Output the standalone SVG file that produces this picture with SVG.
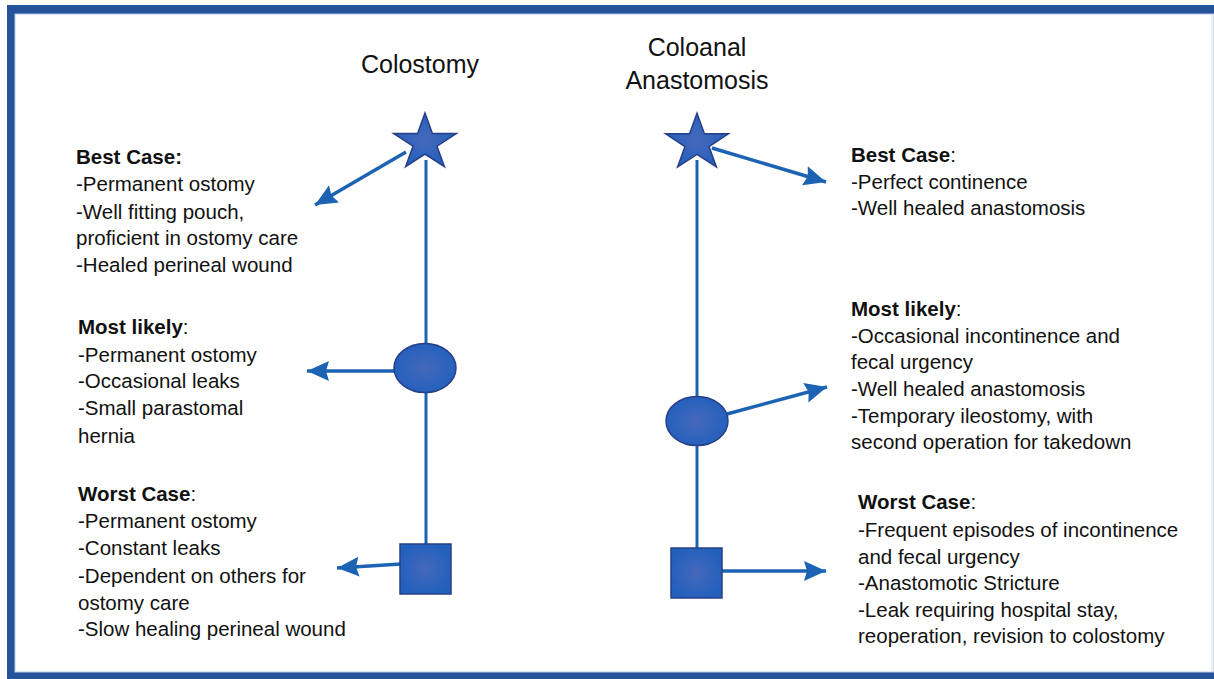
<svg xmlns="http://www.w3.org/2000/svg" width="1214" height="679" viewBox="0 0 1214 679">
<defs>
<radialGradient id="g" cx="50%" cy="50%" r="55%">
<stop offset="0" stop-color="#4668bb"/>
<stop offset="1" stop-color="#2160bd"/>
</radialGradient>
<marker id="ah" markerUnits="userSpaceOnUse" markerWidth="26" markerHeight="24" refX="22" refY="10" orient="auto">
<path d="M0,0 L22,10 L0,20 L3,10 Z" fill="#1d63b4"/>
</marker>
<polygon id="star" points="0,-29.7 7.4,-9.2 31.4,-9.2 12,3.5 19.4,24 0,11.3 -19.4,24 -12,3.5 -31.4,-9.2 -7.4,-9.2"/>
</defs>
<style>
.shape{fill:url(#g);stroke:#283f86;stroke-width:1.5}
.ln{stroke:#1d63b4;stroke-width:3;fill:none}
.ar{stroke:#1d63b4;stroke-width:3.5;fill:none;marker-end:url(#ah)}
.t{font-family:"Liberation Sans",Arial,sans-serif;font-size:20.5px;fill:#111}
.h{font-family:"Liberation Sans",Arial,sans-serif;font-size:25px;fill:#111;text-anchor:middle}
.b{font-weight:bold}
</style>
<rect x="0" y="0" width="1214" height="679" fill="#fff"/>
<rect x="7" y="5" width="1207" height="674" fill="#24539c"/>
<rect x="15" y="14" width="1199" height="658" fill="#fff" stroke="#b9c6e6" stroke-width="1"/>
<line x1="1212" y1="14" x2="1212" y2="672" stroke="#ddd" stroke-width="1"/>

<g id="connectors">
<line class="ln" x1="426" y1="160" x2="426" y2="345"/>
<line class="ln" x1="426" y1="392" x2="426" y2="545"/>
<line class="ln" x1="697" y1="160" x2="697" y2="397"/>
<line class="ln" x1="697" y1="444" x2="697" y2="549"/>
<line class="ar" x1="406" y1="152" x2="315" y2="205"/>
<line class="ar" x1="395" y1="371" x2="307" y2="371"/>
<line class="ar" x1="401" y1="564" x2="337" y2="568"/>
<line class="ar" x1="712" y1="148" x2="826" y2="182"/>
<line class="ar" x1="727" y1="414" x2="827" y2="387"/>
<line class="ar" x1="722" y1="571" x2="826" y2="571"/>
</g>

<g id="title-colostomy"><text class="h" x="420" y="73">Colostomy</text></g>
<g id="title-coloanal"><text class="h" x="697" y="56">Coloanal</text><text class="h" x="697" y="89">Anastomosis</text></g>

<g id="star-left"><use href="#star" class="shape" x="425" y="142.7"/></g>
<g id="ellipse-left"><ellipse class="shape" cx="425" cy="368" rx="31" ry="24.5"/></g>
<g id="square-left"><rect class="shape" x="400" y="544" width="51" height="50"/></g>
<g id="star-right"><use href="#star" class="shape" x="697" y="143"/></g>
<g id="ellipse-right"><ellipse class="shape" cx="697" cy="421" rx="31" ry="24.5"/></g>
<g id="square-right"><rect class="shape" x="671" y="548" width="51" height="50"/></g>

<g id="left-best">
<text class="t" x="76" y="164"><tspan class="b">Best Case:</tspan></text>
<text class="t" x="76" y="191">-Permanent ostomy</text>
<text class="t" x="76" y="219">-Well fitting pouch,</text>
<text class="t" x="76" y="245">proficient in ostomy care</text>
<text class="t" x="76" y="272">-Healed perineal wound</text>
</g>
<g id="left-most">
<text class="t" x="78" y="334"><tspan class="b">Most likely</tspan>:</text>
<text class="t" x="78" y="362">-Permanent ostomy</text>
<text class="t" x="78" y="388">-Occasional leaks</text>
<text class="t" x="78" y="415">-Small parastomal</text>
<text class="t" x="78" y="443">hernia</text>
</g>
<g id="left-worst">
<text class="t" x="78" y="501"><tspan class="b">Worst Case</tspan>:</text>
<text class="t" x="78" y="528">-Permanent ostomy</text>
<text class="t" x="78" y="555">-Constant leaks</text>
<text class="t" x="78" y="583">-Dependent on others for</text>
<text class="t" x="78" y="610">ostomy care</text>
<text class="t" x="78" y="636">-Slow healing perineal wound</text>
</g>
<g id="right-best">
<text class="t" x="851" y="162"><tspan class="b">Best Case</tspan>:</text>
<text class="t" x="851" y="189">-Perfect continence</text>
<text class="t" x="851" y="215">-Well healed anastomosis</text>
</g>
<g id="right-most">
<text class="t" x="851" y="316"><tspan class="b">Most likely</tspan>:</text>
<text class="t" x="851" y="343">-Occasional incontinence and</text>
<text class="t" x="851" y="369">fecal urgency</text>
<text class="t" x="851" y="396">-Well healed anastomosis</text>
<text class="t" x="851" y="423">-Temporary ileostomy, with</text>
<text class="t" x="851" y="449">second operation for takedown</text>
</g>
<g id="right-worst">
<text class="t" x="858" y="509"><tspan class="b">Worst Case</tspan>:</text>
<text class="t" x="858" y="537">-Frequent episodes of incontinence</text>
<text class="t" x="858" y="564">and fecal urgency</text>
<text class="t" x="858" y="590">-Anastomotic Stricture</text>
<text class="t" x="858" y="617">-Leak requiring hospital stay,</text>
<text class="t" x="858" y="643">reoperation, revision to colostomy</text>
</g>
</svg>
